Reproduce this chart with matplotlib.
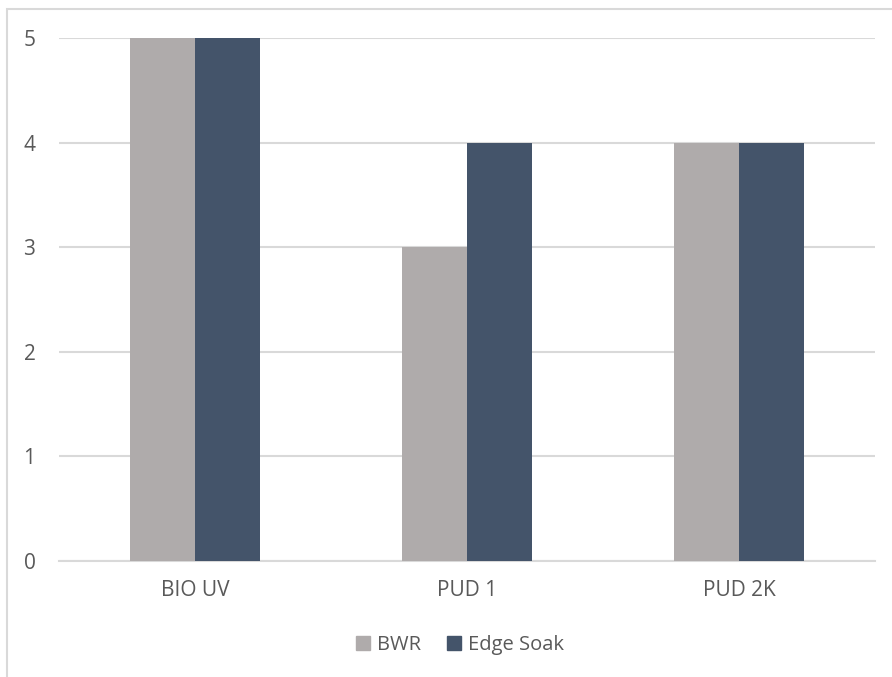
import matplotlib
matplotlib.use('Agg')
import matplotlib.pyplot as plt
import numpy as np
from matplotlib.patches import Rectangle, Patch

categories = ['BIO UV', 'PUD 1', 'PUD 2K']
bwr = [5, 3, 4]
edge_soak = [5, 4, 4]
series_names = ['BWR', 'Edge Soak']
colors = ['#AFABAB', '#44546A']

W, H = 892, 677
fig = plt.figure(figsize=(W / 100, H / 100), dpi=100)
plt.rcParams['font.family'] = ['Open Sans', 'DejaVu Sans']

# chart-area border, runs off the right and bottom edges
fig.patches.append(Rectangle((7 / W, -0.05), 1.0, 1 - 9 / H + 0.05,
                             transform=fig.transFigure, fill=False,
                             edgecolor='#D9D9D9', linewidth=1.5))

ax = fig.add_axes([59 / W, 1 - 561 / H, (875 - 59) / W, (561 - 38) / H])
x = np.arange(len(categories))
w = 65 / 272
ax.bar(x - w / 2, bwr, w, color=colors[0], label=series_names[0], zorder=3)
ax.bar(x + w / 2, edge_soak, w, color=colors[1], label=series_names[1], zorder=3)

ax.set_xlim(-0.5, len(categories) - 0.5)
ax.set_ylim(0, 5)
ax.set_yticks(range(6))
ax.yaxis.grid(True, color='#D9D9D9', linewidth=1.5, zorder=0)
ax.set_xticks(x)
ax.set_xticklabels(categories)
for s in ['top', 'right', 'left']:
    ax.spines[s].set_visible(False)
ax.spines['bottom'].set_color('#D9D9D9')
ax.spines['bottom'].set_linewidth(1.5)
ax.tick_params(axis='both', length=0, labelsize=15, colors='#595959')
ax.tick_params(axis='y', pad=17)
ax.tick_params(axis='x', pad=14)

handles = [Patch(color=c) for c in colors]
fig.legend(handles, series_names, loc='center', bbox_to_anchor=(460 / W, 1 - 645 / H),
           ncol=2, frameon=False, fontsize=14.5, labelcolor='#595959',
           handlelength=0.7, handleheight=0.7, handletextpad=0.35, columnspacing=1.3)

fig.savefig('out.png', dpi=100)
